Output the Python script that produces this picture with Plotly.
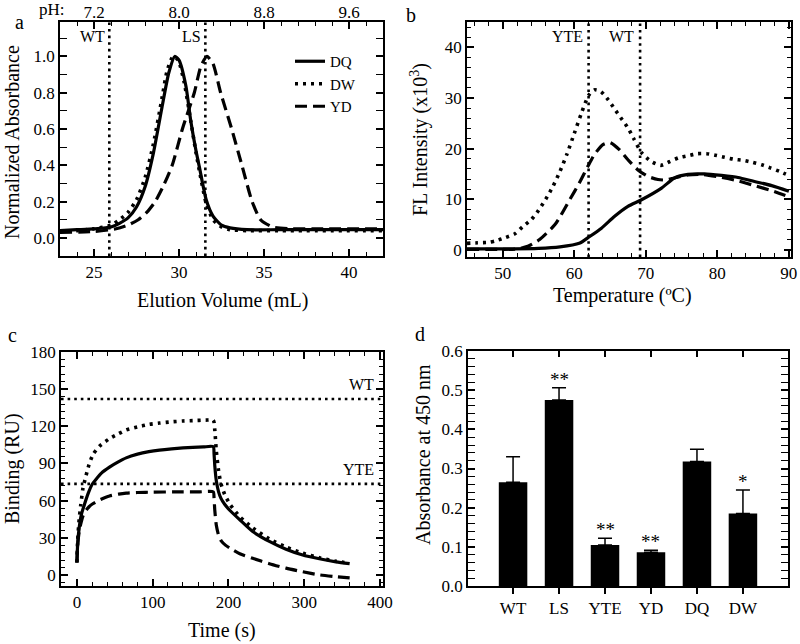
import plotly.graph_objects as go

# ---- panel a: elution profiles ----
a_vol_dq = [23, 24, 25, 26, 26.5, 27, 27.5, 28, 28.5, 29, 29.4, 29.75, 30.0, 30.4, 30.7, 31.0, 31.2, 31.6, 32.0, 32.5, 33, 34, 36, 42]
a_abs_dq = [0.04, 0.045, 0.05, 0.06, 0.08, 0.11, 0.17, 0.28, 0.47, 0.72, 0.91, 1.0, 0.98, 0.84, 0.64, 0.48, 0.39, 0.21, 0.12, 0.07, 0.055, 0.045, 0.045, 0.045]
a_vol_dw = [23, 24, 25, 26, 26.5, 27, 27.5, 28, 28.5, 29, 29.3, 29.65, 29.95, 30.3, 30.7, 31.0, 31.2, 31.6, 32.0, 32.5, 33, 34, 36, 42]
a_abs_dw = [0.035, 0.04, 0.05, 0.07, 0.1, 0.14, 0.21, 0.33, 0.52, 0.77, 0.92, 1.0, 0.98, 0.86, 0.64, 0.47, 0.37, 0.19, 0.1, 0.06, 0.045, 0.04, 0.04, 0.04]
a_vol_yd = [23, 25, 26.3, 27, 27.6, 28.1, 28.6, 29.1, 29.6, 30.2, 30.9, 31.3, 31.65, 32.0, 32.45, 33.1, 33.7, 34.3, 34.8, 35.5, 36.5, 38, 42]
a_abs_yd = [0.03, 0.035, 0.05, 0.07, 0.1, 0.14, 0.2, 0.29, 0.4, 0.6, 0.8, 0.95, 1.0, 0.96, 0.8, 0.6, 0.4, 0.2, 0.1, 0.06, 0.05, 0.05, 0.05]
a_marks = [25.9, 31.55]
a_mark_names = ["WT", "LS"]
ph_ticks = [7.2, 8.0, 8.8, 9.6]
a_xrange = [23, 42]

# ---- panel b: thermal melt ----
b_t_dq = [45, 50, 55, 58, 60.7, 62.1, 63.8, 65.6, 67.5, 69.4, 72.2, 74.0, 75.9, 78.2, 80.6, 82.9, 85.2, 87.6, 90]
b_f_dq = [0.2, 0.2, 0.3, 0.6, 1.3, 2.6, 4.3, 6.6, 8.6, 9.9, 12.2, 14.2, 14.9, 15.0, 14.7, 14.3, 13.5, 12.7, 11.6]
b_t_dw = [45, 46.5, 48, 49, 50.3, 51.7, 52.8, 54, 55, 56, 57, 58, 59, 60, 61, 62, 62.8, 63.7, 64.7, 65.6, 66.5, 67.5, 68.3, 69.4, 70.7, 72.1, 73.3, 74.6, 75.9, 77.2, 78.5, 79.7, 81, 82.3, 83.6, 84.9, 86.2, 87.4, 88.7, 90]
b_f_dw = [1.3, 1.4, 1.5, 1.8, 2.4, 3.2, 4.6, 6.0, 7.8, 10, 12.5, 15.5, 19, 23, 27, 30.5, 31.6, 31.3, 29.7, 27.9, 26.1, 24.1, 22, 19.2, 17.5, 16.7, 17.4, 18.2, 18.6, 19.0, 19.0, 18.7, 18.3, 17.9, 17.7, 17.3, 16.8, 16.2, 15.5, 14.7]
b_t_yd = [45, 50, 52, 53.5, 55.1, 57.3, 59.4, 60.7, 61.9, 62.8, 64.0, 65.0, 66.3, 67.5, 68.9, 70.3, 71.7, 72.8, 74.0, 75.9, 78, 80.6, 83, 85.2, 87.6, 90]
b_f_yd = [0.1, 0.1, 0.2, 0.7, 2.0, 5.0, 10.0, 13.2, 16.5, 18.8, 20.8, 21.2, 19.8, 17.8, 15.8, 14.5, 13.9, 13.8, 14.2, 14.8, 14.9, 14.3, 13.6, 12.7, 11.7, 10.5]
b_marks = [62.0, 69.2]
b_mark_names = ["YTE", "WT"]

# ---- panel c: SPR sensorgrams ----
c_t_dq = [0, 1, 3, 6, 10, 15, 20, 25, 32, 43, 54, 65, 80, 95, 109, 125, 140, 153, 167, 180, 181, 182, 184, 187, 190, 195, 202, 215, 232, 254, 276, 298, 320, 342, 360]
c_r_dq = [10, 25, 38, 49, 57, 66, 73, 77, 82, 87, 91, 94.5, 97.5, 99.5, 100.8, 101.8, 102.5, 103, 103.3, 103.5, 98, 88, 76, 67, 62, 57, 52, 44.5, 35, 27, 20.7, 16, 13, 10.5, 9]
c_t_dw = [0, 1, 3, 5, 8, 12, 16, 21.5, 30, 43, 55, 65, 80, 95, 109, 125, 140, 153, 170, 180, 182, 184, 187, 190, 195, 202, 215, 232, 254, 276, 298, 320, 342, 360]
c_r_dw = [10, 28, 45, 56, 70, 80, 89, 97.5, 104, 110, 114, 117, 119.5, 121.5, 122.6, 123.6, 124.3, 124.6, 125, 125, 117, 100, 84, 74, 65, 57, 47, 38, 29, 22.5, 17.5, 13.8, 11, 9.5]
c_t_yd = [0, 1, 3, 5, 8, 12, 16, 21.5, 30, 43, 55, 65, 80, 100, 130, 160, 180, 181, 182, 184, 187, 191, 196, 202, 215, 232, 254, 276, 298, 320, 342, 360]
c_r_yd = [10, 24, 35, 41, 47.5, 52, 55, 57.6, 60.5, 63.7, 65.2, 66, 66.5, 66.8, 67, 67, 67, 62, 52, 40, 32, 27, 24, 21.5, 17, 13.4, 9, 5.4, 2.5, 0, -1.5, -2.5]
c_refs = [142, 73.5]
c_ref_names = ["WT", "YTE"]

# ---- panel d: ELISA ----
d_groups = ["WT", "LS", "YTE", "YD", "DQ", "DW"]
d_mean = [0.265, 0.475, 0.105, 0.086, 0.318, 0.185]
d_err = [0.065, 0.031, 0.017, 0.005, 0.031, 0.06]
d_sig = ["", "**", "**", "**", "", "*"]

W, H = 800, 644
fx = lambda p: p / W
fy = lambda p: 1 - p / H
FONT = "Times New Roman, Liberation Serif, serif"

SOLID = dict(color="black", width=3.2)
DOT = dict(color="black", width=3.6, dash="3px,5px")
DASH = dict(color="black", width=3.2, dash="12px,6px")
REF = dict(color="black", width=2.6, dash="2.6px,4px")

fig = go.Figure()


def curve(x, y, line, name, xa, ya, legend=False):
    fig.add_trace(go.Scatter(x=x, y=y, mode="lines", name=name, showlegend=legend,
                             line=dict(shape="spline", smoothing=0.6, **line),
                             xaxis=xa, yaxis=ya))


curve(a_vol_dq, a_abs_dq, SOLID, "DQ", "x", "y", True)
curve(a_vol_dw, a_abs_dw, DOT, "DW", "x", "y", True)
curve(a_vol_yd, a_abs_yd, DASH, "YD", "x", "y", True)

curve(b_t_dq, b_f_dq, SOLID, "DQ", "x2", "y2")
curve(b_t_dw, b_f_dw, DOT, "DW", "x2", "y2")
curve(b_t_yd, b_f_yd, DASH, "YD", "x2", "y2")

curve(c_t_dq, c_r_dq, SOLID, "DQ", "x3", "y3")
curve(c_t_dw, c_r_dw, DOT, "DW", "x3", "y3")
curve(c_t_yd, c_r_yd, DASH, "YD", "x3", "y3")

fig.add_trace(go.Bar(x=list(range(len(d_groups))), y=d_mean, width=0.62,
                     marker=dict(color="black", line=dict(width=0)),
                     error_y=dict(type="data", array=d_err, arrayminus=[0] * len(d_err),
                                  symmetric=False, color="black", thickness=1.5, width=7),
                     showlegend=False, xaxis="x4", yaxis="y4"))

# empty traces so the top pH axis and the top ticks of panel d get drawn
fig.add_trace(go.Scatter(x=ph_ticks, y=[None] * len(ph_ticks), mode="lines", showlegend=False,
                         hoverinfo="skip", xaxis="x5", yaxis="y"))
fig.add_trace(go.Scatter(x=list(range(len(d_groups))), y=[None] * len(d_groups), mode="lines",
                         showlegend=False, hoverinfo="skip", xaxis="x6", yaxis="y4"))

shapes = []
annos = []
for v, n in zip(a_marks, a_mark_names):
    shapes.append(dict(type="line", xref="x", yref="y domain", x0=v, x1=v, y0=0, y1=1, line=REF))
    annos.append(dict(x=v, y=1, xref="x", yref="y domain", text=n, showarrow=False,
                      xanchor="right", yanchor="top", xshift=-2, yshift=-4, font=dict(size=16)))
for v, n in zip(b_marks, b_mark_names):
    shapes.append(dict(type="line", xref="x2", yref="y2 domain", x0=v, x1=v, y0=0, y1=1, line=REF))
    annos.append(dict(x=v, y=1, xref="x2", yref="y2 domain", text=n, showarrow=False,
                      xanchor="right", yanchor="top", xshift=-4, yshift=-4, font=dict(size=16)))
for v, n in zip(c_refs, c_ref_names):
    shapes.append(dict(type="line", xref="x3 domain", yref="y3", x0=0, x1=1, y0=v, y1=v, line=REF))
    annos.append(dict(x=1, y=v, xref="x3 domain", yref="y3", text=n, showarrow=False,
                      xanchor="right", yanchor="bottom", xshift=-7, yshift=4, font=dict(size=16)))
for i, (m, e, s) in enumerate(zip(d_mean, d_err, d_sig)):
    if s:
        annos.append(dict(x=i, y=m + e, xref="x4", yref="y4", text=s, showarrow=False,
                          yanchor="bottom", yshift=-4, font=dict(size=19)))


# panel letters, axis titles, pH label
def txt(x, y, t, size=20, angle=0):
    annos.append(dict(x=fx(x), y=fy(y), xref="paper", yref="paper", text=t, showarrow=False,
                      textangle=angle, font=dict(size=size), xanchor="center", yanchor="middle"))


txt(19, 22, "a")
txt(411, 15, "b")
txt(12, 335, "c")
txt(420, 334, "d")
txt(52, 10, "pH:", 17)
txt(222, 300, "Elution Volume (mL)")
txt(12, 142, "Normalized Absorbance", angle=-90)
txt(622, 295, "Temperature (ºC)")
txt(420, 140, "FL Intensity (x10<sup>3</sup>)", angle=-90)
txt(222, 630, "Time (s)")
txt(12, 469, "Binding (RU)", angle=-90)
txt(423, 455, "Absorbance at 450 nm", angle=-90)

ax = dict(showline=True, linecolor="black", linewidth=1.5, mirror="allticks", ticks="inside",
          ticklen=7, tickwidth=1.5, tickcolor="black", showgrid=False, zeroline=False,
          tickfont=dict(size=17),
          minor=dict(ticks="inside", ticklen=4, tickwidth=1.3, tickcolor="black", showgrid=False))

ph = lambda v: 7.2 + 0.16 * (v - 25)

fig.update_layout(
    width=W, height=H, margin=dict(l=0, r=0, t=0, b=0, autoexpand=False),
    paper_bgcolor="white", plot_bgcolor="white",
    font=dict(family=FONT, color="black", size=17),
    shapes=shapes, annotations=annos,
    legend=dict(x=fx(290), y=fy(45), xanchor="left", yanchor="top", bgcolor="rgba(0,0,0,0)",
                font=dict(size=15), tracegroupgap=0),
    xaxis=dict(ax, domain=[fx(60), fx(383)], range=a_xrange, anchor="y", dtick=5, tick0=0,
               minor=dict(ax["minor"], dtick=1)),
    yaxis=dict(ax, domain=[fy(256), fy(22)], range=[-0.1, 1.19], anchor="x", dtick=0.2,
               tickformat=".1f", minor=dict(ax["minor"], dtick=0.1)),
    xaxis5=dict(overlaying="x", side="top", anchor="y", range=[ph(a_xrange[0]), ph(a_xrange[1])],
                tickvals=ph_ticks, tickformat=".1f", ticks="", showline=False, showgrid=False,
                zeroline=False, tickfont=dict(size=17), automargin=False),
    xaxis2=dict(ax, domain=[fx(467), fx(791)], range=[45, 90.3], anchor="y2", dtick=10, tick0=0,
                minor=dict(ax["minor"], dtick=2)),
    yaxis2=dict(ax, domain=[fy(257), fy(22)], range=[-1.4, 45], anchor="x2", dtick=10,
                minor=dict(ax["minor"], dtick=2)),
    xaxis3=dict(ax, domain=[fx(61), fx(383)], range=[-21, 404], anchor="y3", dtick=100, tick0=0,
                minor=dict(ax["minor"], dtick=20)),
    yaxis3=dict(ax, domain=[fy(586), fy(352)], range=[-9, 180], anchor="x3", dtick=30, tick0=0,
                minor=dict(ax["minor"], dtick=6)),
    xaxis4=dict(showline=True, linecolor="black", linewidth=1.5, mirror=True, ticks="outside",
                ticklen=6, tickwidth=1.5, tickcolor="black", showgrid=False, zeroline=False,
                domain=[fx(468), fx(788)], range=[-0.98, 5.98], anchor="y4",
                tickvals=list(range(len(d_groups))), ticktext=d_groups, tickfont=dict(size=17)),
    xaxis6=dict(overlaying="x4", side="top", anchor="y4", range=[-0.98, 5.98],
                tickvals=list(range(len(d_groups))), showticklabels=False, ticks="inside",
                ticklen=6, tickwidth=1.5, tickcolor="black", showline=False, showgrid=False,
                zeroline=False, automargin=False),
    yaxis4=dict(ax, domain=[fy(586), fy(351)], range=[0, 0.6], anchor="x4", dtick=0.1,
                tickformat=".1f", minor=dict(ax["minor"], dtick=0.02)),
)

# drop the browser's default 8px body margin so the figure sits at the window origin
fig.write_html("out.html", config={"displayModeBar": False},
               post_script="document.body.style.margin='0';")
